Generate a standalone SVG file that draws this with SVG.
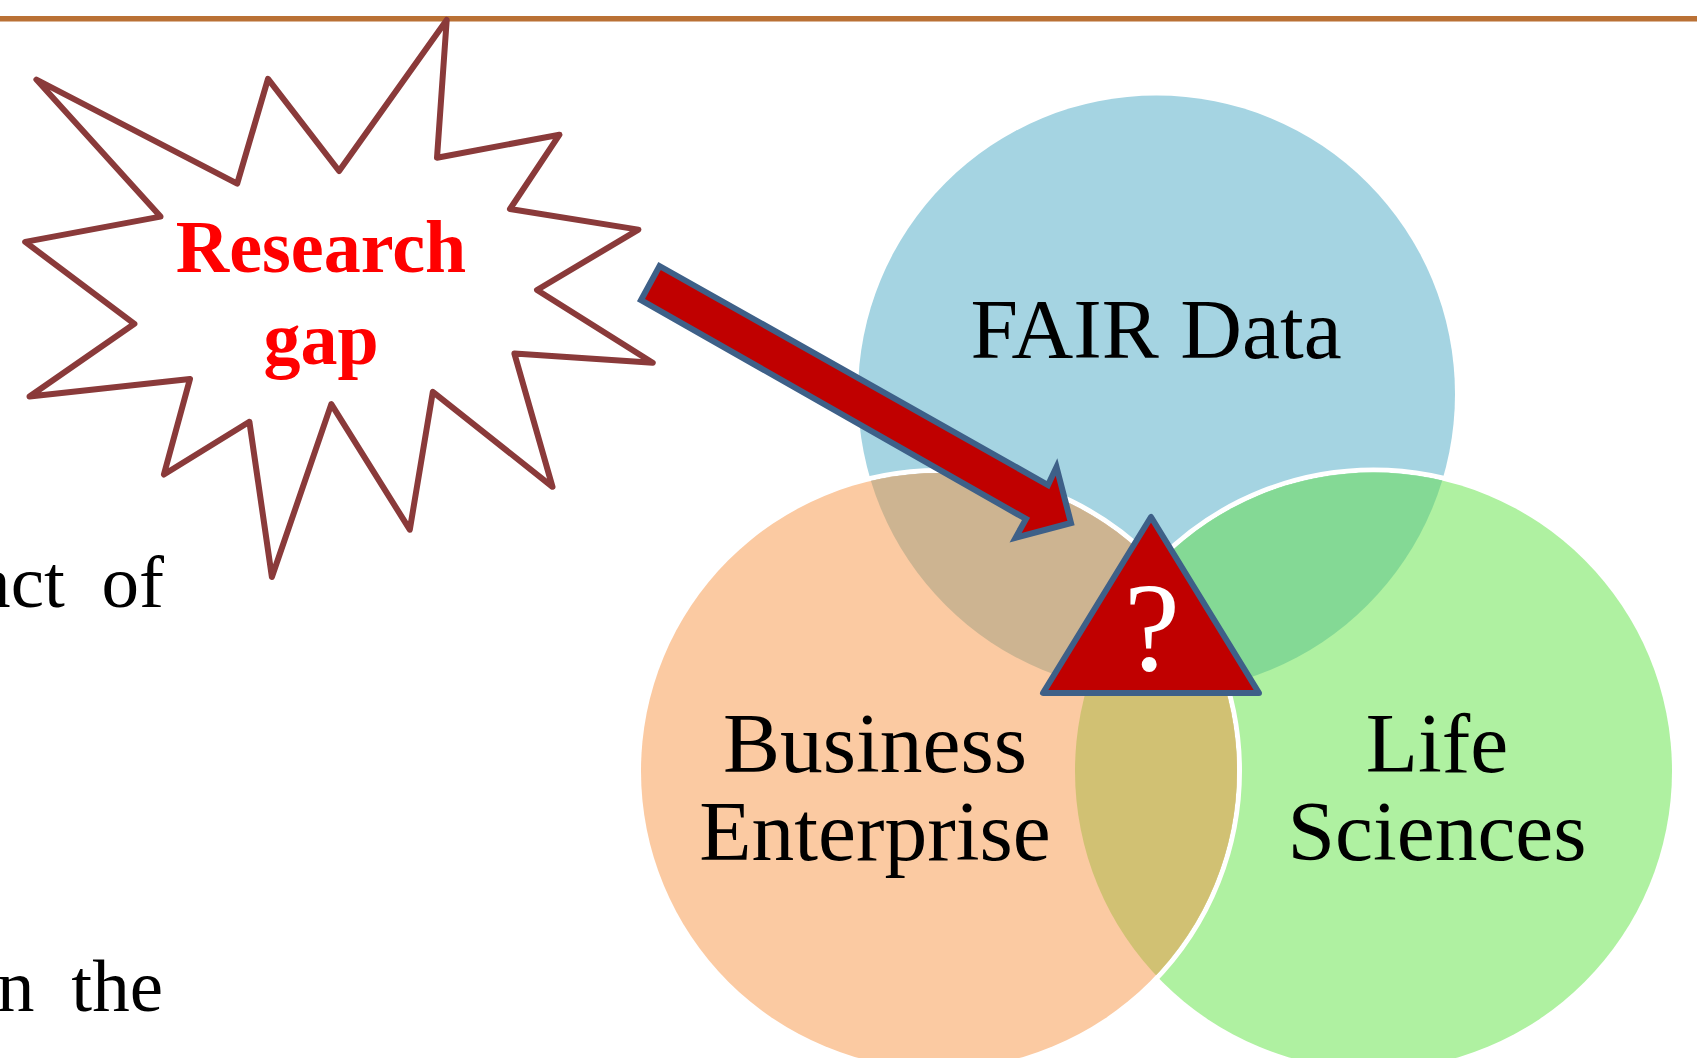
<svg xmlns="http://www.w3.org/2000/svg" width="1697" height="1058" viewBox="0 0 1697 1058">
<style>
.t{font-family:"Liberation Serif","Times New Roman",serif;fill:#000;font-size:85.5px;text-anchor:middle}
.r{font-family:"Liberation Serif","Times New Roman",serif;fill:#f00;font-size:74px;font-weight:bold;text-anchor:middle}
.b{font-family:"Liberation Serif","Times New Roman",serif;fill:#000;font-size:75px;text-anchor:end;word-spacing:18px}
.red{fill:#C00000;stroke:#3E6088;stroke-width:6}
.ring{fill:none;stroke:#fff;stroke-width:5}
</style>
<defs>
<clipPath id="cb"><circle cx="1156.5" cy="394" r="298.5"/></clipPath>
<clipPath id="cg"><circle cx="1373.5" cy="771" r="298.5"/></clipPath>
</defs>
<rect width="1697" height="1058" fill="#fff"/>
<rect x="0" y="16" width="1697" height="5.5" fill="#BA7135"/>
<g id="body-text">
<text class="b" x="164" y="607">act of</text>
<text class="b" x="163" y="1011">n the</text>
</g>
<g id="fair-data">
<circle cx="1156.5" cy="394" r="298.5" fill="#A5D4E2"/>
</g>
<g id="life-sciences">
<circle class="ring" cx="1373.5" cy="771" r="301"/>
<circle cx="1373.5" cy="771" r="298.5" fill="#AFF1A1"/>
<circle cx="1373.5" cy="771" r="298.5" fill="#84D995" clip-path="url(#cb)"/>
</g>
<g id="business-enterprise">
<circle class="ring" cx="939" cy="771" r="300.5"/>
<circle cx="939" cy="771" r="298" fill="#FBCAA2"/>
<circle cx="939" cy="771" r="298" fill="#CDB491" clip-path="url(#cb)"/>
<circle cx="939" cy="771" r="298" fill="#D1C173" clip-path="url(#cg)"/>
</g>
<g id="labels">
<text class="t" x="1156" y="358">FAIR Data</text>
<text class="t" x="875" y="772">Business</text>
<text class="t" x="875" y="860">Enterprise</text>
<text class="t" x="1437" y="772">Life</text>
<text class="t" x="1437" y="860">Sciences</text>
</g>
<g id="research-gap">
<polygon points="446.7,20 437,157.7 559.5,134.7 510,209 638.4,229.6 537,290 652.7,362.8 514.4,353.6 552.5,486.8 432.8,391.9 409.8,529.7 331.3,404.1 271.9,577 249.4,421.7 163.9,474.5 190,378.9 29.5,396.5 134.4,323.8 25.2,241.9 160.5,216.6 36.4,79.6 237.2,183.7 268,78.8 339.1,171" fill="#fff" stroke="#8A3A3A" stroke-width="6" stroke-linejoin="round"/>
<text class="r" x="321" y="272">Research</text>
<text class="r" x="321" y="364">gap</text>
</g>
<g id="connectors">
<polygon class="red" points="659.5,266 1048,485 1056.5,467 1071,523 1015.6,537.7 1026,519 641,300"/>
</g>
<g id="question">
<polygon class="red" points="1151,517 1043,693 1259,693" style="stroke-linejoin:round"/>
<text x="1152" y="670" font-family="Liberation Serif, Times New Roman, serif" font-size="126" fill="#fff" text-anchor="middle">?</text>
</g>
</svg>
